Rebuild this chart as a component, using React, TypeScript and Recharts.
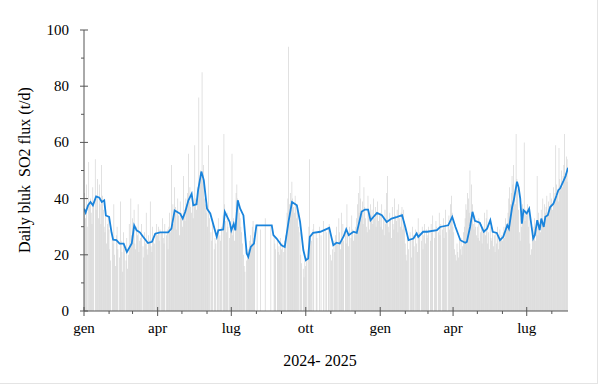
import React from 'react';
import { ComposedChart, Bar, Line, XAxis, YAxis } from 'recharts';

const n = null;

// daily bulk SO2 flux (t/d), one array per month, null = no measurement
const jan24 = [36, 42, 33, 45, 30, n, 53, 38, 40, 35, 31, 44, 39, n, 54, 36, 40, 47, 33, 45, 38, 31, 52, 41, 36, 30, 28, 35, 24, 31, 33];
const feb24 = [29, 22, 18, n, 28, 24, 38, 20, 16, 27, 30, 22, n, 19, 39, 25, 21, 14, 28, 23, n, 18, 26, 15, 20, 31, 24, 40, 27];
const mar24 = [33, 29, 36, 24, 22, 30, 27, 38, 21, 25, 26, 31, n, 23, 19, 28, 24, 35, 22, 20, 27, 25, 39, 23, 21, 30, 26, 24, n, 28, 31];
const apr24 = [27, 30, 25, 29, n, 28, 33, 26, 24, 31, n, 27, 29, 22, 30, 35, 28, 52, 33, 38, 31, 44, 37, 29, 36, 40, 34, 27, 39, 33];
const may24 = [35, 30, 48, 36, 32, 40, 38, 42, 56, 39, 44, 37, 35, 41, 33, 38, 59, 40, 36, 44, 42, 76, 45, 50, 48, 85, 47, 52, 40, 38, 35];
const jun24 = [36, 30, 59, 33, n, 28, 25, 31, n, 22, 26, 24, n, 29, 33, n, 27, 25, 30, n, 34, 63, 38, 32, 28, 35, 30, n, 26, 29];
const jul24 = [30, 56, 27, 33, 25, 29, 42, 45, 40, 38, 35, 33, 30, 28, 24, 20, 16, 14, n, 18, 21, 22, 19, 25, 27, 24, 30, 32, 26, 28, n];
const aug24 = [n, 31, n, n, n, 29, n, n, n, n, n, 33, n, n, n, n, n, n, 30, n, n, n, 27, 24, 22, n, 25, 21, 23, 20, 26];
const sep24 = [22, 24, n, 21, 25, 27, n, 35, 40, 94, 38, 42, 36, 46, 40, 37, 35, 41, 38, 33, 36, 30, n, 28, 20, 17, n, 15, 12, 18];
const oct24 = [16, 19, n, 22, 30, 54, 27, 25, n, 29, 31, n, n, 28, 26, n, n, 30, n, 27, n, n, 32, n, 29, n, 28, n, 30, 31, n];
const nov24 = [20, 18, 22, n, 25, 21, 27, 30, 24, n, 33, 28, 22, 35, 26, 31, 25, n, 29, 24, 38, 27, 23, 30, n, 26, 34, 29, 25, 28];
const dec24 = [27, 30, 33, 38, 42, 35, 48, 40, 36, 39, 31, 44, 37, 33, 30, 28, 41, 35, 29, 38, 34, 36, 31, 40, 33, 37, 30, 35, 39, 32, 34];
const jan25 = [35, 30, 38, 29, 33, 27, 36, 31, 42, 48, 30, 28, 35, 33, 26, 37, 31, 29, 40, 34, 32, 36, 28, 38, 33, 30, 35, 37, 29, 36, 32];
const feb25 = [24, 20, 18, 26, 22, n, 28, 25, 19, 30, 27, 23, n, 29, 24, 21, 33, 26, 28, n, 25, 30, 22, 27, 31, 24, 29, 26];
const mar25 = [27, 30, n, 25, 31, 28, 34, n, 26, 29, 32, 30, n, 28, 35, 27, 31, n, 29, 33, 26, 30, 36, 28, n, 31, 34, 29, 38, 41, 35];
const apr25 = [30, 28, 22, 20, 18, 24, 21, 19, 25, 22, 26, 20, 23, 28, 30, 33, 38, 36, 42, 40, 35, 50, 33, 45, 38, 31, 29, 34, 30, 27];
const may25 = [30, 26, 33, 25, 28, 31, 24, 30, 29, 35, 27, 33, 36, 24, 28, 22, 30, 26, 25, 29, 23, 27, 21, 28, 24, 30, 22, 26, 29, 25, 27];
const jun25 = [25, 28, 30, 26, 33, 31, 29, 35, 40, 44, 38, 42, 48, 45, 52, 40, 38, 63, 47, 43, 36, 28, 25, 33, 30, 38, 35, 60, 32, 36];
const jul25 = [34, 38, 30, 36, 24, 20, 22, 28, 26, 30, 33, 25, 29, 48, 27, 35, 31, 28, 36, 33, 40, 30, 38, 35, 37, 41, 34, 39, 36, 42, 38];
const aug25 = [40, 36, 44, 38, 42, 59, 45, 41, 39, 58, 47, 43, 50, 44, 48, 52, 63, 49, 55, 46, 54];

// running mean (blue line): day index from 1 Jan 2024 and value
const avgDays = [0, 2, 5, 8, 11, 15, 19, 22, 25, 27, 31, 34, 36, 40, 44, 49, 53, 59, 62, 65, 69, 73, 79, 84, 88, 94, 104, 108, 112, 119, 122, 125, 129, 133, 135, 139, 141, 145, 148, 152, 156, 164, 166, 172, 174, 180, 182, 185, 187, 190, 193, 197, 201, 203, 206, 210, 213, 222, 232, 234, 238, 244, 248, 253, 257, 263, 267, 271, 274, 277, 279, 283, 292, 303, 308, 312, 316, 321, 324, 327, 333, 337, 343, 347, 351, 354, 362, 368, 374, 380, 387, 393, 397, 401, 407, 411, 413, 419, 424, 436, 440, 450, 455, 459, 465, 471, 473, 477, 480, 483, 489, 494, 498, 502, 505, 510, 514, 518, 523, 525, 529, 531, 535, 537, 539, 541, 543, 547, 550, 555, 557, 560, 563, 565, 568, 570, 573, 576, 580, 584, 586, 588, 592, 595, 598];
const avgValues = [36.4, 35, 37.6, 38.8, 37.6, 40.8, 40.3, 38.8, 39.4, 34, 33.5, 28, 25.4, 25.2, 24, 24, 21, 24, 30.5, 28.7, 28, 26.4, 24.2, 24.6, 27.5, 28, 28, 29.3, 35.8, 34.6, 32.9, 35.2, 39.4, 41.7, 37.6, 38, 43, 49.6, 46.6, 36.4, 34.7, 26.4, 28.7, 29, 35.3, 31.7, 28.7, 31, 28.7, 39.4, 36.4, 34, 20.5, 19.3, 22.8, 24, 30.5, 30.5, 30.5, 27, 25.8, 23.4, 22.8, 32.3, 38.8, 37.6, 31.7, 21.7, 18.1, 18.7, 26.4, 27.8, 28.2, 29.6, 23.4, 24.3, 24, 26.7, 29.1, 27, 28.2, 27.8, 35.3, 36.1, 36.1, 32.3, 34.9, 34.1, 31.7, 32.9, 33.5, 34.1, 29.9, 25.2, 25.8, 27.6, 26.4, 28.2, 28.2, 28.8, 29.9, 30.5, 33.5, 29.9, 25.2, 24.3, 24.6, 29.9, 35.3, 32.1, 31.4, 28.2, 29.3, 32.3, 28.2, 27.8, 25.2, 26.4, 30.5, 29.3, 37, 39.4, 46, 44, 40, 31.1, 35.9, 34.7, 36.4, 25.8, 27, 32.3, 28.8, 32.9, 29.9, 33.5, 34.1, 37, 38.2, 41.2, 43, 43.5, 46, 48, 51];

const months = [jan24, feb24, mar24, apr24, may24, jun24, jul24, aug24, sep24, oct24, nov24, dec24,
  jan25, feb25, mar25, apr25, may25, jun25, jul25, aug25];
const monthStarts = [0, 31, 60, 91, 121, 152, 182, 213, 244, 274, 305, 335, 366, 397, 425, 456, 486, 517, 547, 578];
const monthLabels = ['gen', '', '', 'apr', '', '', 'lug', '', '', 'ott', '', '',
  'gen', '', '', 'apr', '', '', 'lug', ''];
const yTicks = [0, 10, 20, 30, 40, 50, 60, 70, 80, 90, 100];

const data: { day: number; flux: number | null; avg: number | null }[] =
  months.flat().map((v, day) => ({ day, flux: v, avg: null }));
avgDays.forEach((d, i) => {
  data[d].avg = avgValues[i];
});

const FONT = '"Liberation Serif", "Times New Roman", serif';
const AXIS = '#555';

const XTick = ({ x, y, payload }: any) => {
  const label = monthLabels[monthStarts.indexOf(payload.value)];
  const major = !!label;
  return (
    <g>
      <line x1={x} x2={x} y1={major ? y - 4 : y} y2={y + (major ? 5 : 3)} stroke={AXIS} />
      {major && (
        <text x={x} y={y + 22} textAnchor="middle" fontSize={15} fontFamily={FONT} fill="#000">
          {label}
        </text>
      )}
    </g>
  );
};

const YTick = ({ x, y, payload }: any) => {
  const major = payload.value % 20 === 0;
  return (
    <g>
      <line x1={major ? x - 4 : x - 3} x2={major ? x + 4 : x} y1={y} y2={y} stroke={AXIS} />
      {major && (
        <text x={x - 15} y={y + 5} textAnchor="end" fontSize={15} fontFamily={FONT} fill="#000">
          {payload.value}
        </text>
      )}
    </g>
  );
};

const App = () => {
  return (
    <div style={{ position: 'absolute', left: 0, top: 0, width: 600, height: 385, background: '#fff' }}>
      <div
        style={{
          position: 'absolute', left: 0, top: 0, width: 597, height: 383,
          borderRight: '1px solid #e4e4e4', borderBottom: '1px solid #e4e4e4',
        }}
      />
      <ComposedChart width={600} height={385} data={data} margin={{ top: 30, right: 32, bottom: 44, left: 0 }}>
        <XAxis
          dataKey="day"
          type="number"
          domain={[0, 598]}
          ticks={monthStarts}
          interval={0}
          tick={<XTick />}
          tickLine={false}
          tickSize={0}
          tickMargin={0}
          height={30}
          stroke={AXIS}
          allowDataOverflow
        />
        <YAxis
          type="number"
          domain={[0, 100]}
          ticks={yTicks}
          interval={0}
          tick={<YTick />}
          tickLine={false}
          tickSize={0}
          tickMargin={0}
          width={84}
          stroke={AXIS}
        />
        <Bar dataKey="flux" fill="#cdcdcd" barSize={0.6} isAnimationActive={false} />
        <Line
          type="linear"
          dataKey="avg"
          stroke="#1a84dc"
          strokeWidth={1.8}
          dot={false}
          connectNulls
          isAnimationActive={false}
        />
      </ComposedChart>
      <div
        style={{
          position: 'absolute', left: 25, top: 170, transform: 'translate(-50%, -50%) rotate(-90deg)',
          whiteSpace: 'pre', fontFamily: FONT, fontSize: 16, color: '#000',
        }}
      >
        {'Daily bluk  SO2 flux (t/d)'}
      </div>
      <div
        style={{
          position: 'absolute', left: 320, top: 361, transform: 'translate(-50%, -50%)',
          whiteSpace: 'pre', fontFamily: FONT, fontSize: 16, color: '#000',
        }}
      >
        {'2024- 2025'}
      </div>
    </div>
  );
};

export default App;
